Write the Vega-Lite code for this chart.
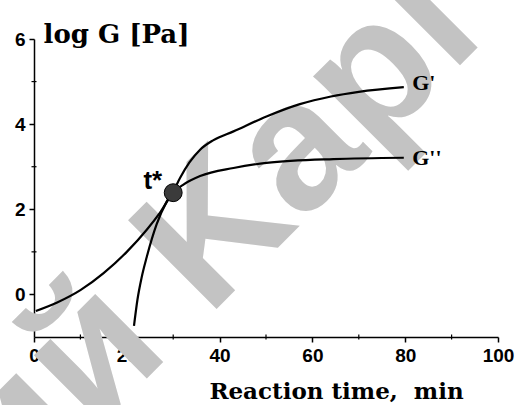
{
  "$schema": "https://vega.github.io/schema/vega-lite/v6.json",
  "width": 464,
  "height": 298,
  "autosize": {"type": "none"},
  "padding": {"left": 34, "top": 39, "right": 21, "bottom": 68},
  "background": "white",
  "config": {
    "view": {"stroke": null},
    "axis": {
      "zindex": 1,
      "grid": false,
      "domainColor": "black",
      "domainWidth": 1.5,
      "tickColor": "black",
      "tickWidth": 1.5,
      "tickSize": 5,
      "labelFont": "Liberation Sans",
      "labelFontWeight": "bold",
      "labelFontSize": 19,
      "labelColor": "black",
      "labelPadding": 4,
      "titleFont": "DejaVu Serif",
      "titleFontWeight": "bold",
      "titleFontSize": 23,
      "titleColor": "black"
    }
  },
  "encoding": {
    "x": {
      "field": "x",
      "type": "quantitative",
      "scale": {"domain": [0, 100], "nice": false, "zero": false},
      "axis": {
        "values": [0, 20, 40, 60, 80, 100],
        "title": "Reaction time,\u00a0 min",
        "titleX": 302,
        "titleY": 61,
        "titleAlign": "center",
        "titleBaseline": "alphabetic",
        "labelFlush": false
      }
    },
    "y": {
      "field": "y",
      "type": "quantitative",
      "scale": {"domain": [-1, 6], "nice": false, "zero": false},
      "axis": {
        "values": [0, 2, 4, 6],
        "title": "log G [Pa]",
        "titleFontSize": 26,
        "titleAngle": 0,
        "titleAlign": "left",
        "titleBaseline": "alphabetic",
        "titleX": 9,
        "titleY": 3
      }
    }
  },
  "layer": [
    {
      "data": {"values": [{"x": 97.6, "y": 6.01, "label": "ий Kapl"}]},
      "mark": {"type": "text", "angle": -45, "fontSize": 182, "font": "Liberation Sans", "fontWeight": "bold", "fill": "#c3c3c3", "align": "right", "baseline": "alphabetic"},
      "encoding": {"text": {"field": "label"}}
    },
    {
      "data": {"values": [
        {"x": 10, "y": -1}, {"x": 30, "y": -1}, {"x": 50, "y": -1}, {"x": 70, "y": -1}, {"x": 90, "y": -1}
      ]},
      "mark": {"type": "tick", "orient": "vertical", "size": 5, "thickness": 1.2, "color": "black", "opacity": 1}
    },
    {
      "data": {"values": [
        {"x": 0, "y": 1}, {"x": 0, "y": 3}, {"x": 0, "y": 5}
      ]},
      "mark": {"type": "tick", "orient": "horizontal", "size": 5, "thickness": 1.2, "color": "black", "opacity": 1}
    },
    {
      "data": {"values": [
        {"series": "G'", "x": 21.55, "y": -0.74},
        {"series": "G'", "x": 22.3, "y": -0.12},
        {"series": "G'", "x": 23.2, "y": 0.4},
        {"series": "G'", "x": 24.3, "y": 0.88},
        {"series": "G'", "x": 26.4, "y": 1.64},
        {"series": "G'", "x": 28.6, "y": 2.18},
        {"series": "G'", "x": 30.0, "y": 2.42},
        {"series": "G'", "x": 31.5, "y": 2.74},
        {"series": "G'", "x": 33.5, "y": 3.1},
        {"series": "G'", "x": 35.8, "y": 3.4},
        {"series": "G'", "x": 38.6, "y": 3.62},
        {"series": "G'", "x": 43.0, "y": 3.83},
        {"series": "G'", "x": 50.1, "y": 4.18},
        {"series": "G'", "x": 57.3, "y": 4.47},
        {"series": "G'", "x": 64.0, "y": 4.65},
        {"series": "G'", "x": 70.0, "y": 4.76},
        {"series": "G'", "x": 79.7, "y": 4.87},
        {"series": "G''", "x": 0.4, "y": -0.39},
        {"series": "G''", "x": 5.0, "y": -0.19},
        {"series": "G''", "x": 10.0, "y": 0.1},
        {"series": "G''", "x": 15.0, "y": 0.5},
        {"series": "G''", "x": 20.0, "y": 1.0},
        {"series": "G''", "x": 24.3, "y": 1.52},
        {"series": "G''", "x": 27.2, "y": 1.93},
        {"series": "G''", "x": 30.0, "y": 2.39},
        {"series": "G''", "x": 32.2, "y": 2.58},
        {"series": "G''", "x": 35.8, "y": 2.78},
        {"series": "G''", "x": 43.0, "y": 2.97},
        {"series": "G''", "x": 50.1, "y": 3.09},
        {"series": "G''", "x": 64.5, "y": 3.18},
        {"series": "G''", "x": 79.7, "y": 3.21}
      ]},
      "mark": {"type": "line", "color": "black", "strokeWidth": 2.2, "interpolate": "monotone"},
      "encoding": {"detail": {"field": "series"}}
    },
    {
      "data": {"values": [{"x": 30.0, "y": 2.39}]},
      "mark": {"type": "point", "filled": true, "size": 320, "fill": "#3b3b3b", "stroke": "black", "strokeWidth": 1, "opacity": 1}
    },
    {
      "data": {"values": [
        {"x": 81.5, "y": 4.81, "label": "G'"},
        {"x": 81.5, "y": 3.05, "label": "G''"}
      ]},
      "mark": {"type": "text", "font": "Liberation Serif", "fontWeight": "bold", "fontSize": 22, "align": "left", "baseline": "alphabetic", "color": "black"},
      "encoding": {"text": {"field": "label"}}
    },
    {
      "data": {"values": [{"x": 25.6, "y": 2.47, "label": "t*"}]},
      "mark": {"type": "text", "font": "Liberation Sans", "fontWeight": "bold", "fontSize": 26, "align": "center", "baseline": "alphabetic", "color": "black"},
      "encoding": {"text": {"field": "label"}}
    }
  ]
}
